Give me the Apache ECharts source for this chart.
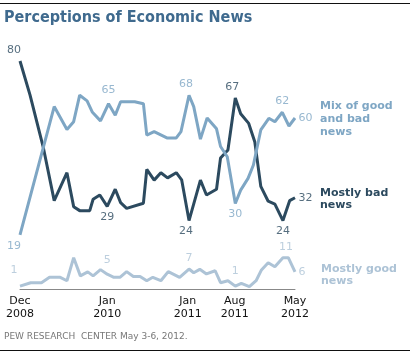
<!DOCTYPE html>
<html><head><meta charset="utf-8">
<script src="https://cdn.jsdelivr.net/npm/echarts@6/dist/echarts.min.js"></script>
<style>html,body{margin:0;padding:0;background:#fff}#c{width:410px;height:355px}</style>
</head><body><div id="c"></div>
<script>
// x = months since Dec 2008 (survey positions), y = percent
const mixX = [0,5.1,7.0,8.0,8.9,10.0,10.8,12.0,13.2,14.2,15.0,17.1,18.4,18.9,20.0,21.9,23.3,24.0,25.2,25.9,26.9,27.9,29.3,29.9,30.9,32.1,32.9,34.0,34.8,35.9,37.1,38.0,39.1,40.1,41.0];
const mixY = [19,64,56,58.7,68,66,62,59,65,61,65.7,65.7,65,54,55.2,53,53,55.2,68,64,52.6,60,56.2,50,46.4,30,34.7,38.8,43.5,55.8,59.9,58.7,62,57.2,60];
const badX = [0,1.5,3.5,5.1,7.0,8.0,8.9,10.4,10.9,11.9,13.0,14.2,15.0,15.9,18.4,18.9,20.0,21.0,22.0,23.3,24.1,25.2,26.9,27.8,29.3,29.9,31.0,32.1,32.9,34.1,35.0,35.9,37.0,38.0,39.2,40.2,41.0];
const badY = [80,68,49.4,31,40.8,28.9,27.5,27.5,31.5,33,29,35,30.3,28.3,30.1,42,38.2,40.8,39,40.8,38.3,24,38.2,33,35,46,48.8,67,61.5,58.1,51.7,36,30.8,29.8,24,31,32];
const goodX = [0,1.6,3.2,4.4,6.0,7.0,8.0,9.0,10.1,10.9,12.0,13.0,14.0,14.9,15.9,16.9,17.9,18.9,19.8,21.0,22.1,23.8,25.2,25.9,26.8,27.8,29.1,29.9,31.0,32.1,33.0,34.2,35.2,36.0,37.0,38.0,39.2,40.0,41.0];
const goodY = [1,2.2,2.2,4.1,4.1,2.9,11,4.6,6,4.6,6.8,5.2,4.1,4.1,6.1,4.4,4.4,2.9,4.1,2.9,6.1,4.1,7,5.7,6.9,5.3,6.4,2.2,2.9,1,2,0.8,2.9,6.7,9.2,7.8,11,11,6];
const tickMonths = [0,13,25,32,41];
const tickLabels = ['Dec\n2008','Jan\n2010','Jan\n2011','Aug\n2011','May\n2012'];
const mixShown = [19,65,68,30,62,60];
const badShown = [80,29,24,67,24,32];
const goodShown = [1,5,7,1,11,6];

// label placement (index -> [position, dx, dy])
const mixLab = {0:['bottom',-6,0],8:['top',0,-3],18:['top',-3,0],25:['bottom',0,0],32:['top',0,0],34:['right',0,0]};
const badLab = {0:['top',-6,0],10:['bottom',0,0],21:['bottom',-3,0],27:['top',-3,0],34:['bottom',0,0],36:['right',0,0]};
const goodLab = {0:['top',-6,-5],11:['top',0,-3],22:['top',0,0],29:['top',0,-4],36:['top',3,0],38:['right',0,0]};

const C_MIX='#7ea6c4', C_BAD='#2c4a5f', C_GOOD='#adc3d6';
const FONT='DejaVu Sans';

function lineSeries(name,xs,ys,color,z){
  return {type:'line',name:name,data:xs.map((x,i)=>[x,ys[i]]),
    symbol:'none',showSymbol:false,
    lineStyle:{color:color,width:3},itemStyle:{color:color},
    emphasis:{disabled:true},z:z};
}
function labelSeries(xs,ys,labs,shown,color){
  let k=0;
  const data=[];
  Object.keys(labs).map(Number).sort((a,b)=>a-b).forEach(i=>{
    const L=labs[i];
    data.push({value:[xs[i],ys[i]],label:{position:L[0],offset:[L[1],L[2]],distance:L[0]==='right'?3:5,
      formatter:String(shown[k++])}});
  });
  return {type:'scatter',data:data,symbolSize:1,itemStyle:{color:'rgba(0,0,0,0)'},silent:true,
    label:{show:true,color:color,fontSize:11,fontFamily:FONT},emphasis:{disabled:true},z:5};
}

const chart = echarts.init(document.getElementById('c'),null,{renderer:'canvas'});
chart.setOption({
  animation:false,
  grid:{left:20,right:115,top:61,bottom:66,containLabel:false},
  xAxis:{type:'value',min:0,max:41,
    axisLine:{show:true,lineStyle:{color:'#888',width:1}},
    axisTick:{show:false},splitLine:{show:false},
    axisLabel:{customValues:tickMonths,color:'#111',fontSize:11,fontFamily:FONT,lineHeight:13,margin:6,
      formatter:(v)=>{const i=tickMonths.indexOf(v);return i>=0?tickLabels[i]:'';}}},
  yAxis:{type:'value',min:0,max:80,show:false,splitLine:{show:false}},
  series:[
    lineSeries('Mostly good news',goodX,goodY,C_GOOD,2),
    lineSeries('Mostly bad news',badX,badY,C_BAD,3),
    lineSeries('Mix of good and bad news',mixX,mixY,C_MIX,4),
    labelSeries(goodX,goodY,goodLab,goodShown,C_GOOD),
    labelSeries(badX,badY,badLab,badShown,C_BAD),
    labelSeries(mixX,mixY,mixLab,mixShown,C_MIX)
  ],
  graphic:[
    {type:'line',shape:{x1:0,y1:3.5,x2:410,y2:3.5},style:{stroke:'#111',lineWidth:1}},
    {type:'line',shape:{x1:0,y1:350.5,x2:410,y2:350.5},style:{stroke:'#111',lineWidth:1}},
    {type:'text',left:4,top:10,style:{text:'Perceptions of Economic News',fill:'#3f6a8e',font:'bold 16px "DejaVu Sans Condensed", "DejaVu Sans"'}},
    {type:'text',left:4,top:332,style:{text:'PEW RESEARCH  CENTER May 3-6, 2012.',fill:'#777',font:'9px "DejaVu Sans"'}},
    {type:'text',left:320,top:100,style:{text:'Mix of good\nand bad\nnews',fill:C_MIX,font:'bold 11px "DejaVu Sans"',lineHeight:13}},
    {type:'text',left:320,top:187,style:{text:'Mostly bad\nnews',fill:C_BAD,font:'bold 11px "DejaVu Sans"',lineHeight:12}},
    {type:'text',left:321,top:263,style:{text:'Mostly good\nnews',fill:C_GOOD,font:'bold 11px "DejaVu Sans"',lineHeight:12}}
  ]
});
</script></body></html>
